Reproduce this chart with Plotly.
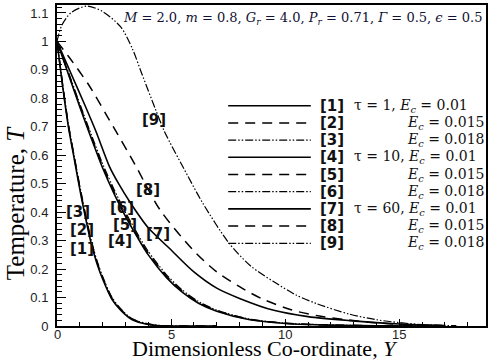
import plotly.graph_objects as go

# ---- data: temperature profiles T(Y) ----
# tau = 1  (Ec = 0.01, 0.015, 0.018)
y_tau1 = [0, 0.25, 0.5, 0.75, 1.0, 1.25, 1.5, 1.75, 2.0, 2.4, 2.8, 3.3, 3.9, 4.5, 5.5, 7.0]
t_1 = [1, 0.84, 0.70, 0.59, 0.48, 0.38, 0.29, 0.22, 0.165, 0.095, 0.055, 0.022, 0.007, 0.001, 0, 0]
t_2 = [1, 0.845, 0.705, 0.595, 0.487, 0.387, 0.297, 0.226, 0.17, 0.099, 0.058, 0.024, 0.008, 0.001, 0, 0]
t_3 = [1, 0.85, 0.71, 0.60, 0.493, 0.393, 0.302, 0.23, 0.174, 0.102, 0.06, 0.025, 0.009, 0.002, 0, 0]

# tau = 10
y_tau10 = [0, 0.5, 1.0, 1.5, 2.0, 2.5, 3.0, 3.5, 4.0, 4.8, 5.5, 6.2, 7.0, 8.4, 10, 12, 14, 17]
t_4 = [1, 0.885, 0.77, 0.66, 0.555, 0.465, 0.385, 0.315, 0.25, 0.17, 0.118, 0.08, 0.052, 0.023, 0.009, 0.003, 0.001, 0]
t_5 = [1, 0.888, 0.775, 0.666, 0.562, 0.472, 0.392, 0.321, 0.256, 0.175, 0.122, 0.083, 0.054, 0.024, 0.01, 0.003, 0.001, 0]
t_6 = [1, 0.892, 0.781, 0.673, 0.57, 0.48, 0.4, 0.328, 0.262, 0.18, 0.126, 0.086, 0.056, 0.025, 0.01, 0.004, 0.001, 0]

# tau = 60
y_7 = [0, 0.6, 1.2, 1.7, 2.3, 2.7, 3.2, 4.0, 4.9, 6.0, 7.0, 8.0, 9.5, 11, 12.8, 15, 17]
t_7 = [1, 0.89, 0.78, 0.685, 0.56, 0.50, 0.435, 0.345, 0.275, 0.19, 0.133, 0.097, 0.055, 0.033, 0.019, 0.007, 0.002]
y_8 = [0, 0.5, 1.4, 2.2, 3.4, 4.5, 5.95, 7.0, 8.0, 9.0, 10.3, 11.5, 12.8, 14, 15.5, 17]
t_8 = [1, 0.948, 0.846, 0.737, 0.57, 0.41, 0.268, 0.19, 0.138, 0.095, 0.056, 0.035, 0.021, 0.011, 0.004, 0.001]
y_9 = [0, 0.2, 0.6, 1.3, 2.0, 2.8, 3.3, 3.7, 4.3, 4.7, 5.7, 6.4, 7.55, 8.5, 9.45, 10.5, 11.4, 12.8, 14, 15, 16, 17.5]
t_9 = [1, 1.055, 1.1, 1.124, 1.105, 1.05, 0.975, 0.89, 0.765, 0.685, 0.532, 0.43, 0.29, 0.21, 0.158, 0.108, 0.078, 0.042, 0.022, 0.012, 0.005, 0.001]

# axis ticks
x_ticks = [0, 5, 10, 15]
x_tick_text = ["0", "5", "10", "15"]
y_ticks = [0, 0.1, 0.2, 0.3, 0.4, 0.5, 0.6, 0.7, 0.8, 0.9, 1.0, 1.1]
y_tick_text = ["0", "0.1", "0.2", "0.3", "0.4", "0.5", "0.6", "0.7", "0.8", "0.9", "1", "1.1"]

curve_tags = ["[1]", "[2]", "[3]", "[4]", "[5]", "[6]", "[7]", "[8]", "[9]"]
legend_text = [
    "τ = 1, <i>E<sub>c</sub></i> = 0.01",
    "<i>E<sub>c</sub></i> = 0.015",
    "<i>E<sub>c</sub></i> = 0.018",
    "τ = 10, <i>E<sub>c</sub></i> = 0.01",
    "<i>E<sub>c</sub></i> = 0.015",
    "<i>E<sub>c</sub></i> = 0.018",
    "τ = 60, <i>E<sub>c</sub></i> = 0.01",
    "<i>E<sub>c</sub></i> = 0.015",
    "<i>E<sub>c</sub></i> = 0.018",
]
tag_x = [1.09, 1.11, 0.93, 2.74, 3.0, 2.86, 4.42, 3.99, 4.24]
tag_y = [0.271, 0.338, 0.402, 0.297, 0.356, 0.414, 0.324, 0.479, 0.725]

params_text = ("<i>M</i> = 2.0, <i>m</i> = 0.8, <i>G<sub>r</sub></i> = 4.0, "
               "<i>P<sub>r</sub></i> = 0.71, <i>Γ</i> = 0.5, <i>ϵ</i> = 0.5")

# ---- styles ----
SOLID = "solid"
DASH = "10px,7px"
DASHDOT2 = "8px,2px,1.5px,2px,1.5px,2px"
styles = [SOLID, DASH, DASHDOT2] * 3
widths = [1.6, 1.5, 1.2] * 3

series = [
    (y_tau1, t_1), (y_tau1, t_2), (y_tau1, t_3),
    (y_tau10, t_4), (y_tau10, t_5), (y_tau10, t_6),
    (y_7, t_7), (y_8, t_8), (y_9, t_9),
]

fig = go.Figure()
for (xs, ts), dsh, w in zip(series, styles, widths):
    fig.add_trace(go.Scatter(
        x=xs, y=ts, mode="lines",
        line=dict(color="black", width=w, dash=dsh, shape="spline", smoothing=0.8),
        showlegend=False, hoverinfo="skip",
    ))

# ---- layout geometry ----
L, R, T, B = 57, 2, 5, 34
W, H = 490, 360
pw, ph = W - L - R, H - T - B


def px2paper(px, py):
    return (px - L) / pw, (H - B - py) / ph


annotations = []
shapes = []
TAG_FONT = dict(family="DejaVu Sans", size=15, color="#111111")
KEY_FONT = dict(family="DejaVu Serif", size=14, color="#111111")
TICK_FONT = dict(family="Liberation Sans", size=13, color="#222222")

# x tick labels, set close under the axis
_, y_lab = px2paper(0, 326)
for xv, txt in zip(x_ticks, x_tick_text):
    annotations.append(dict(
        x=xv, y=y_lab, xref="x", yref="paper", text=txt, showarrow=False,
        xanchor="center", yanchor="top", font=TICK_FONT, borderpad=0,
    ))

# curve tags inside the plot
for tag, xv, yv in zip(curve_tags, tag_x, tag_y):
    annotations.append(dict(
        x=xv, y=yv, xref="x", yref="y", text="<b>%s</b>" % tag, showarrow=False,
        font=TAG_FONT, xanchor="center", yanchor="middle",
    ))

# hand-built key
row0, row_step = 105.7, 17.2
for i in range(9):
    py = row0 + row_step * i
    x0, yy = px2paper(229, py)
    x1, _ = px2paper(312, py)
    shapes.append(dict(
        type="line", xref="paper", yref="paper", x0=x0, x1=x1, y0=yy, y1=yy,
        line=dict(color="black", width=widths[i], dash=styles[i]),
    ))
    xt, _ = px2paper(333, py)
    annotations.append(dict(
        x=xt, y=yy, xref="paper", yref="paper", text="<b>%s</b>" % curve_tags[i],
        showarrow=False, xanchor="center", yanchor="middle", font=TAG_FONT,
    ))
    if i % 3 == 0:
        xl, _ = px2paper(353, py)
        annotations.append(dict(
            x=xl, y=yy, xref="paper", yref="paper", text=legend_text[i],
            showarrow=False, xanchor="left", yanchor="middle", font=KEY_FONT,
        ))
    else:
        xr, _ = px2paper(488, py)
        annotations.append(dict(
            x=xr, y=yy, xref="paper", yref="paper", text=legend_text[i],
            showarrow=False, xanchor="right", yanchor="middle", font=KEY_FONT,
        ))

# parameter line at the top
xp, yp = px2paper(486, 18)
annotations.append(dict(
    x=xp, y=yp, xref="paper", yref="paper", text=params_text, showarrow=False,
    xanchor="right", yanchor="middle",
    font=dict(family="DejaVu Serif", size=13, color="#111133"),
))

# axis titles
xa, ya = px2paper(266, 362)
annotations.append(dict(
    x=xa, y=ya, xref="paper", yref="paper",
    text="Dimensionless Co-ordinate, <i>Y</i>", showarrow=False,
    xanchor="center", yanchor="bottom", borderpad=0,
    font=dict(family="Liberation Serif", size=22, color="black"),
))
xa, ya = px2paper(15, 203)
annotations.append(dict(
    x=xa, y=ya, xref="paper", yref="paper", text="Temperature, <i>T</i>",
    showarrow=False, textangle=-90, xanchor="center", yanchor="middle",
    font=dict(family="Liberation Serif", size=25, color="black"),
))

axis_common = dict(
    showgrid=False, zeroline=False, showline=True, linecolor="black",
    linewidth=2, mirror=True, ticks="inside", tickcolor="black",
    tickfont=TICK_FONT,
)

fig.update_layout(
    width=W, height=H,
    margin=dict(l=L, r=R, t=T, b=B, pad=0),
    paper_bgcolor="white", plot_bgcolor="white",
    xaxis=dict(
        range=[0, 18.8], tickmode="array", tickvals=x_ticks,
        showticklabels=False, ticklen=7, tickwidth=1.2,
        minor=dict(ticks="inside", dtick=1, tick0=0, ticklen=4, tickcolor="black", tickwidth=1),
        **axis_common,
    ),
    yaxis=dict(
        range=[0, 1.128], tickmode="array",
        tickvals=y_ticks, ticktext=y_tick_text,
        ticklen=9, tickwidth=1.2, ticklabelstandoff=4,
        minor=dict(ticks="inside", dtick=0.02, tick0=0, ticklen=5, tickcolor="black", tickwidth=1),
        **axis_common,
    ),
    annotations=annotations,
    shapes=shapes,
)

fig.write_html("out.html")
